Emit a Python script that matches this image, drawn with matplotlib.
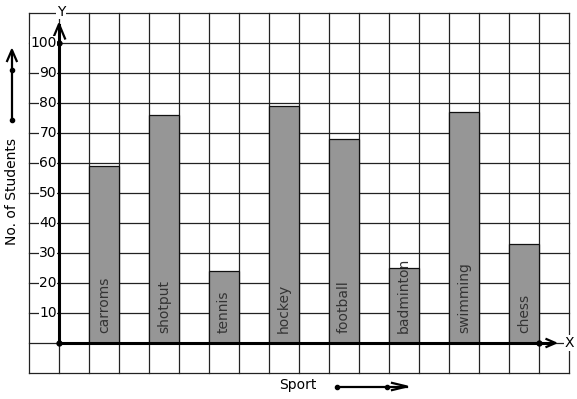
import matplotlib
matplotlib.use('Agg')
from matplotlib import pyplot as plt

# data
sports = ['carroms', 'shotput', 'tennis', 'hockey', 'football', 'badminton', 'swimming', 'chess']
students = [59, 76, 24, 79, 68, 25, 77, 33]
yticks = [10, 20, 30, 40, 50, 60, 70, 80, 90, 100]

# one grid column = 30 px, 10 students = 30 px
fig = plt.figure(figsize=(5.77, 3.99), dpi=100)
ax = fig.add_axes([0, 0, 1, 1])
ax.set_xlim(-59 / 30, (577 - 59) / 30)
ax.set_ylim((343 - 399) / 3, 343 / 3)
ax.axis('off')

# grid
for u in range(-1, 18):
    ax.plot([u, u], [-10, 110], color='#222222', lw=0.9, zorder=1)
for v in range(-10, 111, 10):
    ax.plot([-1, 17], [v, v], color='#222222', lw=0.9, zorder=1)

# bars
pos = [1 + 2 * i for i in range(len(sports))]
ax.bar(pos, students, width=1, align='edge', color='#969696',
       edgecolor='#111111', linewidth=0.9, zorder=2)
for p, s in zip(pos, sports):
    ax.text(p + 0.5, 3.3, s, rotation=90, ha='center', va='bottom',
            fontsize=10, color='#333333', zorder=4)

# axes with arrows
ax.plot([0, 0], [0, 106], color='black', lw=2.2, zorder=3)
ax.plot([0, 16.4], [0, 0], color='black', lw=2.2, zorder=3)
ax.plot([0, 0, 16], [100, 0, 0], 'o', color='black', ms=3.5, zorder=5)
ax.plot([-0.2, 0, 0.2], [101.5, 106.3, 101.5], color='black', lw=1.6, zorder=5)
ax.plot([16.25, 16.55, 16.25], [1.3, 0, -1.3], color='black', lw=1.6, zorder=5)
ax.text(0.07, 110.5, 'Y', ha='center', va='center', fontsize=10,
        bbox=dict(facecolor='white', edgecolor='none', pad=0.5), zorder=6)
ax.text(17.0, 0, 'X', ha='center', va='center', fontsize=10,
        bbox=dict(facecolor='white', edgecolor='none', pad=0.5), zorder=6)

# y tick labels
for v in yticks:
    ax.text(-0.07, v, str(v), ha='right', va='center', fontsize=10,
            bbox=dict(facecolor='white', edgecolor='none', pad=0.3), zorder=6)

# axis titles with arrows
ax.text(-1.57, 50.5, 'No. of Students', rotation=90, ha='center', va='center', fontsize=10)
ax.plot([-1.57, -1.57], [74.3, 97], color='black', lw=1.6)
ax.plot([-1.57, -1.57], [74.3, 91], 'o', color='black', ms=3)
ax.plot([-1.73, -1.57, -1.41], [94, 97.7, 94], color='black', lw=1.6)

ax.text(7.95, -14, 'Sport', ha='center', va='center', fontsize=10)
ax.plot([9.27, 11.6], [-14.5, -14.5], color='black', lw=1.6)
ax.plot([9.27, 10.93], [-14.5, -14.5], 'o', color='black', ms=3)
ax.plot([11.1, 11.6, 11.1], [-13.3, -14.5, -15.7], color='black', lw=1.6)

plt.savefig('out.png', dpi=100)
